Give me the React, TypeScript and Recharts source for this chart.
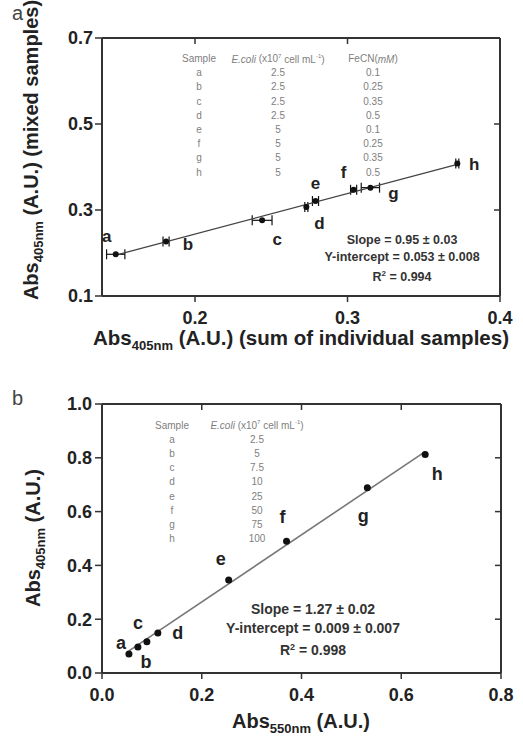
import { ScatterChart, Scatter, XAxis, YAxis, ErrorBar } from "recharts";

const samples = ["a", "b", "c", "d", "e", "f", "g", "h"];

// panel a: mixed vs sum of individual samples
const sumA = [0.148, 0.181, 0.244, 0.273, 0.279, 0.304, 0.315, 0.372];
const mixedA = [0.197, 0.227, 0.276, 0.307, 0.321, 0.347, 0.352, 0.408];
const errA = [0.006, 0.002, 0.0065, 0.001, 0.002, 0.002, 0.006, 0.001];
const fitAX = [0.148, 0.372];
const fitAY = [0.195, 0.406];
const ecoliA = ["2.5", "2.5", "2.5", "2.5", "5", "5", "5", "5"];
const fecnA = ["0.1", "0.25", "0.35", "0.5", "0.1", "0.25", "0.35", "0.5"];
const xTicksA = [0.2, 0.3, 0.4];
const yTicksA = [0.1, 0.3, 0.5, 0.7];

// panel b: Abs405 vs Abs550
const abs550 = [0.054, 0.072, 0.09, 0.112, 0.254, 0.37, 0.532, 0.648];
const abs405 = [0.071, 0.097, 0.116, 0.149, 0.346, 0.49, 0.689, 0.812];
const fitBX = [0.054, 0.648];
const fitBY = [0.082, 0.823];
const ecoliB = ["2.5", "5", "7.5", "10", "25", "50", "75", "100"];
const xTicksB = [0, 0.2, 0.4, 0.6, 0.8];
const yTicksB = [0, 0.2, 0.4, 0.6, 0.8, 1.0];

const pointsA = samples.map((name, i) => ({ name, x: sumA[i], y: mixedA[i], xErr: errA[i] }));
const lineA = fitAX.map((x, i) => ({ x, y: fitAY[i] }));
const pointsB = samples.map((name, i) => ({ name, x: abs550[i], y: abs405[i] }));
const lineB = fitBX.map((x, i) => ({ x, y: fitBY[i] }));

// where each letter sits relative to its point
const labelOffA: Record<string, [number, number]> = {
  a: [-9, -18], b: [22, 3], c: [15, 19], d: [13, 17],
  e: [0, -17], f: [-10, -17], g: [23, 6], h: [17, 1],
};
const labelOffB: Record<string, [number, number]> = {
  a: [-8, -11], b: [8, 15], c: [-9, -19], d: [20, 0],
  e: [-8, -21], f: [-4, -24], g: [-4, 28], h: [12, 19],
};

const font = "'Liberation Sans', Arial, sans-serif";
const ink = "#222";
const axisLine = { stroke: "#333", strokeWidth: 2 };
const tickLine = { stroke: "#333", strokeWidth: 1.5 };
const tickStyle = { fill: ink, fontSize: 18, fontWeight: "bold", fontFamily: font };
const blank = () => "";
const oneDp = (v: number) => v.toFixed(1);

function pointShape(off: Record<string, [number, number]>, r: number, size: number) {
  return (props: any) => {
    const { cx, cy, payload } = props;
    const [dx, dy] = off[payload.name];
    return (
      <g>
        <circle cx={cx} cy={cy} r={r} fill="#111" />
        <text x={cx + dx} y={cy + dy} textAnchor="middle" dominantBaseline="central"
          fontSize={size} fontWeight="bold" fontFamily={font} fill={ink}>
          {payload.name}
        </text>
      </g>
    );
  };
}

function ChartA() {
  return (
    <ScatterChart width={523} height={370} margin={{ top: 38, right: 23, bottom: 44, left: 42 }}>
      <XAxis type="number" dataKey="x" domain={[0.139, 0.4]} ticks={xTicksA} allowDataOverflow
        axisLine={axisLine} tickLine={tickLine} tickSize={6} tickMargin={9} tick={tickStyle}
        tickFormatter={oneDp} height={30} />
      <XAxis xAxisId="top" orientation="top" type="number" dataKey="x" domain={[0.139, 0.4]}
        ticks={[0.2, 0.3]} allowDataOverflow mirror axisLine={axisLine} tickLine={tickLine}
        tickSize={6} tickFormatter={blank} />
      <YAxis type="number" dataKey="y" domain={[0.1, 0.7]} ticks={yTicksA} allowDataOverflow
        axisLine={axisLine} tickLine={tickLine} tickSize={7} tickMargin={2} tick={tickStyle}
        tickFormatter={oneDp} width={60} />
      <YAxis yAxisId="right" orientation="right" type="number" dataKey="y" domain={[0.1, 0.7]}
        ticks={[0.3, 0.5]} allowDataOverflow mirror axisLine={axisLine} tickLine={tickLine}
        tickSize={6} tickFormatter={blank} />
      <Scatter data={lineA} line={{ stroke: "#444", strokeWidth: 1.3 }} shape={() => <g />}
        isAnimationActive={false} />
      <Scatter data={pointsA} shape={pointShape(labelOffA, 3, 17)} isAnimationActive={false}>
        <ErrorBar dataKey="xErr" direction="x" width={5} stroke="#111" strokeWidth={1.2} />
      </Scatter>
    </ScatterChart>
  );
}

function ChartB() {
  return (
    <ScatterChart width={523} height={358} margin={{ top: 24, right: 22, bottom: 35, left: 42 }}>
      <XAxis type="number" dataKey="x" domain={[0, 0.8]} ticks={xTicksB} allowDataOverflow
        axisLine={axisLine} tickLine={tickLine} tickSize={6} tickMargin={9} tick={tickStyle}
        tickFormatter={oneDp} height={30} />
      <XAxis xAxisId="top" orientation="top" type="number" dataKey="x" domain={[0, 0.8]}
        ticks={[0.2, 0.4, 0.6]} allowDataOverflow mirror axisLine={axisLine} tickLine={tickLine}
        tickSize={6} tickFormatter={blank} />
      <YAxis type="number" dataKey="y" domain={[0, 1]} ticks={yTicksB} allowDataOverflow
        axisLine={axisLine} tickLine={tickLine} tickSize={7} tickMargin={3} tick={tickStyle}
        tickFormatter={oneDp} width={60} />
      <YAxis yAxisId="right" orientation="right" type="number" dataKey="y" domain={[0, 1]}
        ticks={[0.2, 0.4, 0.6, 0.8]} allowDataOverflow mirror axisLine={axisLine} tickLine={tickLine}
        tickSize={6} tickFormatter={blank} />
      <Scatter data={lineB} line={{ stroke: "#777", strokeWidth: 1.6 }} shape={() => <g />}
        isAnimationActive={false} />
      <Scatter data={pointsB} shape={pointShape(labelOffB, 3.5, 18)} isAnimationActive={false} />
    </ScatterChart>
  );
}

function Notes() {
  const small = { fontFamily: font, fontSize: 10, fill: "#808080", textAnchor: "middle" as const, dominantBaseline: "central" as const };
  const stat = (size: number) => ({ fontFamily: font, fontSize: size, fontWeight: "bold", fill: "#333", textAnchor: "middle" as const });
  const title = { fontFamily: font, fontSize: 20, fontWeight: "bold", fill: ink };
  return (
    <svg width={523} height={738} style={{ position: "absolute", left: 0, top: 0, pointerEvents: "none" }}>
      <text x={12} y={20} fontFamily={font} fontSize={20} fill="#444">a</text>
      <text x={12} y={405} fontFamily={font} fontSize={20} fill="#444">b</text>

      <text transform="translate(38,150) rotate(-90)" textAnchor="middle" {...title}>
        Abs<tspan fontSize={13} dy={5}>405nm</tspan><tspan dy={-5}> (A.U.) (mixed samples)</tspan>
      </text>
      <text x={301} y={345} textAnchor="middle" {...title} fontSize={20.5}>
        Abs<tspan fontSize={13} dy={5}>405nm</tspan><tspan dy={-5}> (A.U.) (sum of individual samples)</tspan>
      </text>
      <text transform="translate(40,538) rotate(-90)" textAnchor="middle" {...title}>
        Abs<tspan fontSize={13} dy={5}>405nm</tspan><tspan dy={-5}> (A.U.)</tspan>
      </text>
      <text x={301} y={728} textAnchor="middle" {...title}>
        Abs<tspan fontSize={13} dy={5}>550nm</tspan><tspan dy={-5}> (A.U.)</tspan>
      </text>

      <text x={199} y={58.5} {...small}>Sample</text>
      <text x={278} y={58.5} {...small}><tspan fontStyle="italic">E.coli</tspan> (x10<tspan fontSize={6} dy={-3}>7</tspan><tspan dy={3}> cell mL</tspan><tspan fontSize={6} dy={-3}>-1</tspan><tspan dy={3}>)</tspan></text>
      <text x={373} y={58.5} {...small}>FeCN(<tspan fontStyle="italic">mM</tspan>)</text>
      {samples.map((s, i) => (
        <g key={s}>
          <text x={199} y={72.7 + i * 14.2} {...small}>{s}</text>
          <text x={278} y={72.7 + i * 14.2} {...small}>{ecoliA[i]}</text>
          <text x={373} y={72.7 + i * 14.2} {...small}>{fecnA[i]}</text>
        </g>
      ))}
      <text x={402} y={244} {...stat(12.5)}>Slope = 0.95 ± 0.03</text>
      <text x={402} y={261} {...stat(12.5)}>Y-intercept = 0.053 ± 0.008</text>
      <text x={402} y={281} {...stat(12.5)}>R<tspan fontSize={8} dy={-5}>2</tspan><tspan dy={5}> = 0.994</tspan></text>

      <text x={172} y={425} {...small}>Sample</text>
      <text x={257} y={425} {...small}><tspan fontStyle="italic">E.coli</tspan> (x10<tspan fontSize={6} dy={-3}>7</tspan><tspan dy={3}> cell mL</tspan><tspan fontSize={6} dy={-3}>-1</tspan><tspan dy={3}>)</tspan></text>
      {samples.map((s, i) => (
        <g key={s}>
          <text x={172} y={439.2 + i * 14.2} {...small}>{s}</text>
          <text x={257} y={439.2 + i * 14.2} {...small}>{ecoliB[i]}</text>
        </g>
      ))}
      <text x={313} y={614} {...stat(14)}>Slope = 1.27 ± 0.02</text>
      <text x={313} y={633} {...stat(14)}>Y-intercept = 0.009 ± 0.007</text>
      <text x={313} y={655} {...stat(14)}>R<tspan fontSize={9} dy={-5}>2</tspan><tspan dy={5}> = 0.998</tspan></text>
    </svg>
  );
}

export default function App() {
  return (
    <div style={{ position: "absolute", left: 0, top: 0, width: 523, height: 738, background: "#fff" }}>
      <div style={{ position: "absolute", left: 0, top: 0 }}>
        <ChartA />
      </div>
      <div style={{ position: "absolute", left: 0, top: 380 }}>
        <ChartB />
      </div>
      <Notes />
    </div>
  );
}
